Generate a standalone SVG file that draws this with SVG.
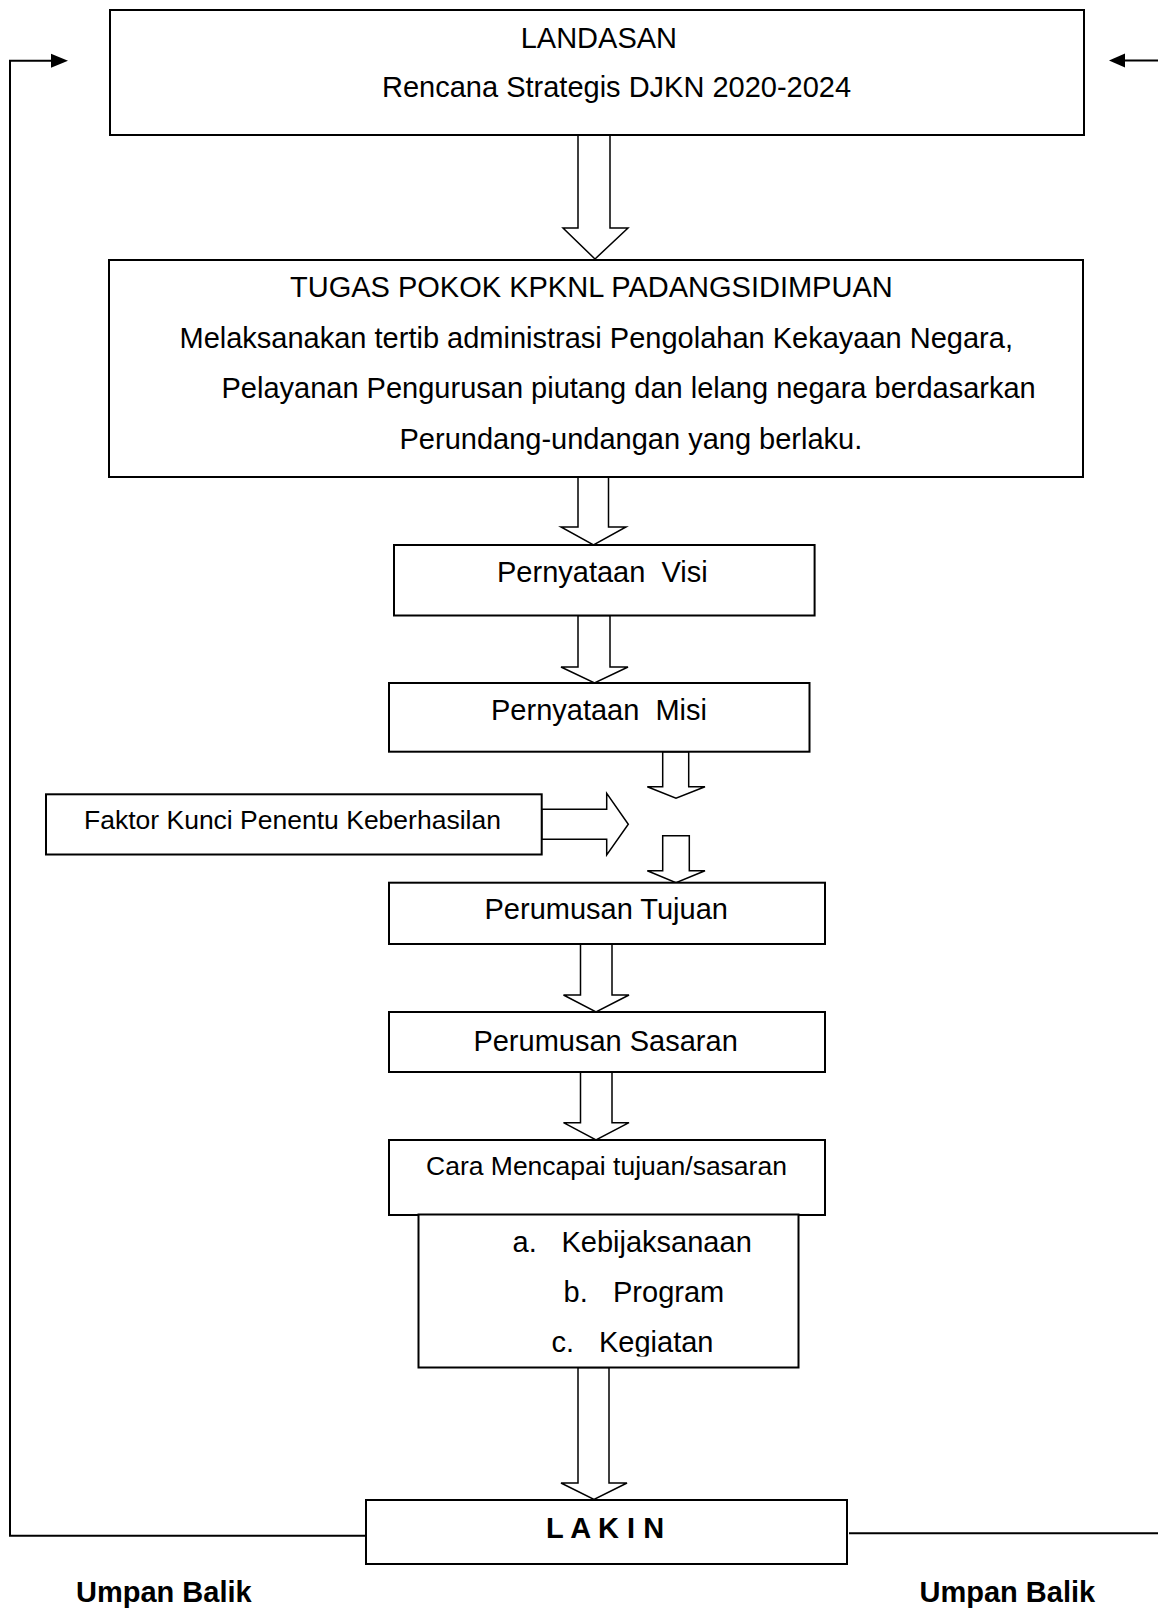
<svg xmlns="http://www.w3.org/2000/svg" width="1158" height="1611" viewBox="0 0 1158 1611">
  <defs>
    <style>
      .box { fill: #ffffff; stroke: #000000; stroke-width: 2; }
      .harrow { fill: #ffffff; stroke: #000000; stroke-width: 1.5; stroke-linejoin: miter; }
      .line { fill: none; stroke: #000000; stroke-width: 2; }
      .t { font-family: "Liberation Sans", Arial, sans-serif; font-size: 29px; fill: #000000; }
      .ts { font-family: "Liberation Sans", Arial, sans-serif; font-size: 26.5px; fill: #000000; }
      .tb { font-family: "Liberation Sans", Arial, sans-serif; font-size: 29px; font-weight: bold; fill: #000000; }
    </style>
    <clipPath id="clipC">
      <rect x="400" y="1300" width="420" height="56.5"/>
    </clipPath>
  </defs>

  <rect width="1158" height="1611" fill="#ffffff"/>

  <g id="connectors">
    <!-- left feedback loop -->
    <polyline class="line" points="366,1535.7 10,1535.7 10,60.7 51,60.7"/>
    <path d="M51,53.7 L68,60.7 L51,67.7 z" fill="#000000"/>
    <!-- right feedback loop -->
    <line class="line" x1="849" y1="1533.3" x2="1158" y2="1533.3"/>
    <line class="line" x1="1158" y1="60.5" x2="1125" y2="60.5"/>
    <path d="M1125,53.5 L1109,60.5 L1125,67.5 z" fill="#000000"/>

    <!-- hollow block arrows -->
    <polygon class="harrow" points="578,135 610,135 610,228 628,228 595,259 563,228 578,228"/>
    <polygon class="harrow" points="578,477 608.5,477 608.5,527 626,527 593.5,545 561,527 578,527"/>
    <polygon class="harrow" points="578,615.5 610,615.5 610,667 628,667 594.5,683 561,667 578,667"/>
    <polygon class="harrow" points="662.7,751.7 688.7,751.7 688.7,786.7 705,786.7 676,798.3 647.3,786.7 662.7,786.7"/>
    <polygon class="harrow" points="541.7,809.3 606.7,809.3 606.7,793.3 628.3,824.3 606.7,855 606.7,839.3 541.7,839.3"/>
    <polygon class="harrow" points="662.7,835.7 689.3,835.7 689.3,870.7 705,870.7 676,882.7 647.3,870.7 662.7,870.7"/>
    <polygon class="harrow" points="580.5,944 612,944 612,995 629,995 596,1012 563.5,995 580.5,995"/>
    <polygon class="harrow" points="580.5,1072 612,1072 612,1122.7 629,1122.7 596,1140 563.5,1122.7 580.5,1122.7"/>
    <polygon class="harrow" points="578,1367.5 609,1367.5 609,1483 627,1483 594,1499.5 561,1483 578,1483"/>
  </g>

  <g id="node-landasan">
    <rect class="box" x="110" y="10" width="974" height="125"/>
    <text class="t" x="520.7" y="48">LANDASAN</text>
    <text class="t" x="382" y="97">Rencana Strategis DJKN 2020-2024</text>
  </g>

  <g id="node-tugas">
    <rect class="box" x="109" y="260" width="974" height="217"/>
    <text class="t" x="290" y="297">TUGAS POKOK KPKNL PADANGSIDIMPUAN</text>
    <text class="t" x="179.5" y="348">Melaksanakan tertib administrasi Pengolahan Kekayaan Negara,</text>
    <text class="t" x="221.5" y="398">Pelayanan Pengurusan piutang dan lelang negara berdasarkan</text>
    <text class="t" x="399.5" y="449">Perundang-undangan yang berlaku.</text>
  </g>

  <g id="node-visi">
    <rect class="box" x="394" y="545" width="420.6" height="70.5"/>
    <text class="t" x="497" y="582" xml:space="preserve">Pernyataan  Visi</text>
  </g>

  <g id="node-misi">
    <rect class="box" x="389" y="683" width="420.5" height="68.7"/>
    <text class="t" x="491" y="720" xml:space="preserve">Pernyataan  Misi</text>
  </g>

  <g id="node-faktor">
    <rect class="box" x="46" y="794.3" width="495.7" height="60.2"/>
    <text class="ts" x="84" y="829.3">Faktor Kunci Penentu Keberhasilan</text>
  </g>

  <g id="node-tujuan">
    <rect class="box" x="389" y="882.7" width="436" height="61.3"/>
    <text class="t" x="484.5" y="919.3">Perumusan Tujuan</text>
  </g>

  <g id="node-sasaran">
    <rect class="box" x="389" y="1012" width="436" height="60"/>
    <text class="t" x="473.4" y="1051">Perumusan Sasaran</text>
  </g>

  <g id="node-cara">
    <rect class="box" x="389" y="1140" width="436" height="75"/>
    <text class="ts" x="426" y="1175">Cara Mencapai tujuan/sasaran</text>
  </g>

  <g id="node-list">
    <rect class="box" x="418.5" y="1214.5" width="380" height="153"/>
    <text class="t" x="512.5" y="1251.5">a.</text>
    <text class="t" x="561.5" y="1251.5">Kebijaksanaan</text>
    <text class="t" x="563.5" y="1301.5">b.</text>
    <text class="t" x="613" y="1301.5">Program</text>
    <g clip-path="url(#clipC)">
      <text class="t" x="551.5" y="1352">c.</text>
      <text class="t" x="599" y="1352">Kegiatan</text>
    </g>
  </g>

  <g id="node-lakin">
    <rect class="box" x="366" y="1500" width="481" height="64"/>
    <text class="tb" x="546" y="1538" xml:space="preserve">L A K I N</text>
  </g>

  <g id="label-umpan-kiri">
    <text class="tb" x="76" y="1602">Umpan Balik</text>
  </g>
  <g id="label-umpan-kanan">
    <text class="tb" x="919.5" y="1602">Umpan Balik</text>
  </g>
</svg>
